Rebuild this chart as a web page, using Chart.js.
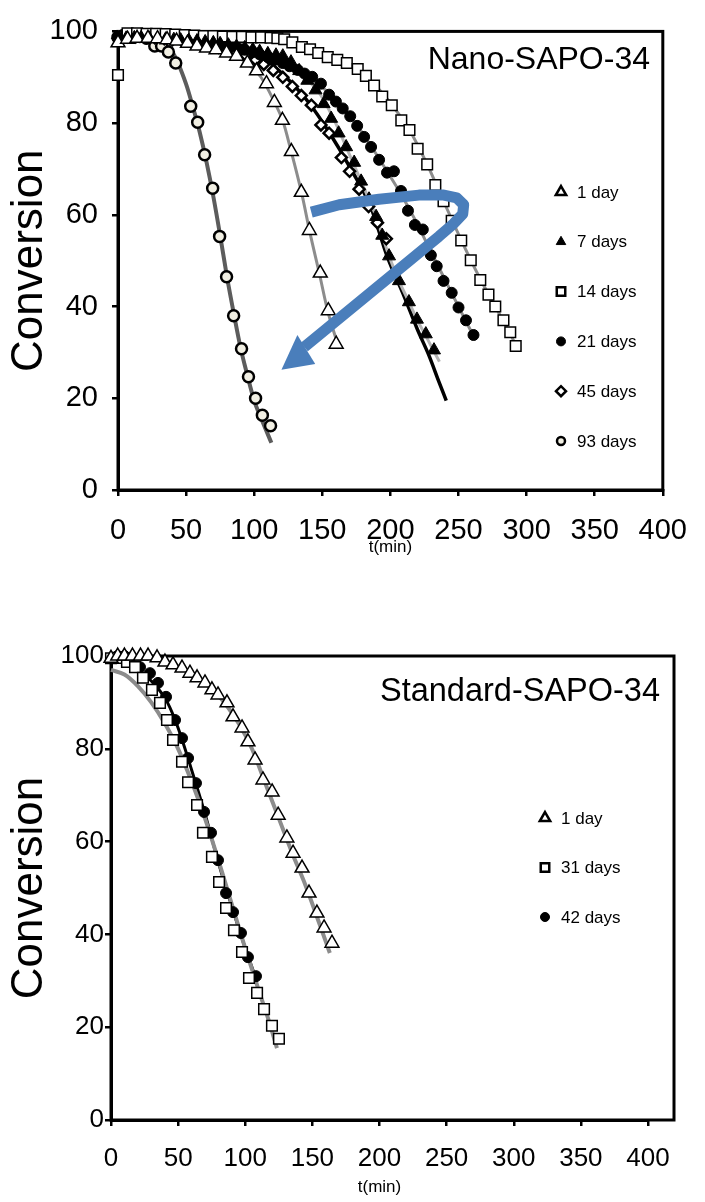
<!DOCTYPE html>
<html>
<head>
<meta charset="utf-8">
<script src="https://cdn.jsdelivr.net/npm/chart.js@4.4.0/dist/chart.umd.min.js"></script>
<style>
  body { margin: 0; background: #fff; }
  #wrap { position: relative; width: 705px; height: 1202px; }
  canvas { position: absolute; left: 0; }
</style>
</head>
<body>
<div id="wrap">
  <canvas id="nanoChart" width="705" height="580" style="top:0px"></canvas>
  <canvas id="stdChart" width="705" height="602" style="top:600px"></canvas>
</div>
<script>
// ---- shared tick labels ----
const xTickValues = [0, 50, 100, 150, 200, 250, 300, 350, 400];
const yTickValues = [0, 20, 40, 60, 80, 100];

// ---- Nano-SAPO-34 (top panel), measured points ----
const nanoDay1T = [0, 7, 14, 22, 29, 36, 43, 51, 58, 65, 72, 79.7, 87, 95, 101.7, 109, 114.8, 120.7, 127.3, 134.6, 140.5, 148.5, 154.4, 160.2];
const nanoDay1C = [97.5, 98.3, 98.5, 98.5, 98.4, 98.2, 97.9, 97.4, 96.8, 96.4, 96, 95.3, 94.6, 93.1, 91.4, 88.6, 84.5, 80.6, 73.8, 64.9, 56.6, 47.3, 39.1, 31.8];

const nanoDay7T = [0, 6, 12, 17, 23, 29, 35, 41, 46, 52, 58, 64, 70, 75, 81, 87, 93, 99, 104, 110, 116, 121, 127, 133, 139, 145, 151, 156.5, 162, 167.5, 173.4, 178.5, 184.3, 189.5, 194, 199, 206.3, 213.6, 219.5, 226, 232];
const nanoDay7C = [97.5, 98.5, 98.6, 98.6, 98.5, 98.4, 98.3, 98.2, 98.1, 98, 97.9, 97.7, 97.5, 97.3, 97, 96.7, 96.4, 96, 95.6, 95.1, 94.8, 94.6, 93.3, 91.4, 89.3, 87.2, 84.2, 81, 77.8, 74.8, 71.4, 67.3, 63.4, 59.6, 55.5, 51, 45.6, 41, 37.2, 34, 30.5];

const nanoDay14T = [0, 7, 14, 21, 28, 35, 42, 49, 56, 63, 70, 77, 84, 91, 98, 105, 112, 117, 122, 128, 135, 141, 147, 154, 161, 168, 176, 182, 188, 194, 201, 208, 214, 220, 227, 233, 239, 245, 252, 259, 266, 272, 277, 283, 288, 292];
const nanoDay14C = [90.5, 99.6, 99.6, 99.5, 99.5, 99.4, 99.3, 99.2, 99.1, 99.0, 99.0, 98.9, 98.8, 98.8, 98.7, 98.7, 98.6, 98.5, 98.3, 97.6, 96.6, 96.1, 95.3, 94.4, 93.8, 93.1, 91.8, 90.3, 88.2, 85.8, 83.9, 80.6, 78.5, 74.4, 71, 66.5, 63, 58.7, 54.4, 50.1, 45.8, 42.6, 40, 37, 34.4, 31.4];

const nanoDay21T = [0, 5, 11, 16, 22, 27, 33, 38, 44, 49, 55, 60, 66, 71, 77, 82, 88, 93, 99, 104, 110, 115, 121, 126, 132, 137, 142.6, 149, 155, 160, 165, 170.5, 175.6, 180.7, 185.8, 191.7, 197.5, 202.6, 207.8, 212.9, 218, 223.8, 229.7, 234, 239, 245, 250, 255.5, 261];
const nanoDay21C = [98.5, 99, 99, 99, 98.9, 98.8, 98.7, 98.6, 98.5, 98.3, 98.1, 97.9, 97.7, 97.4, 97.1, 96.8, 96.4, 96, 95.5, 95, 94.4, 93.8, 93.1, 92.4, 91.6, 90.8, 90.1, 88.6, 86.2, 84.7, 83.2, 81.5, 79.4, 77, 74.8, 72, 69.2, 69.5, 65.2, 60.9, 57.8, 56.8, 51.2, 48.8, 45.6, 43, 39.8, 37, 33.8];

const nanoDay45T = [0, 7, 13, 20, 27, 34, 40, 47, 54, 60, 67, 74, 81, 87, 94, 101, 107, 114, 121, 128, 134.6, 142, 149, 155, 164, 170, 177, 184, 190.5, 197];
const nanoDay45C = [98.5, 98.8, 98.8, 98.7, 98.6, 98.4, 98.2, 98, 97.7, 97.4, 97, 96.5, 96, 95.4, 94.7, 93.8, 92.8, 91.5, 90, 88, 86, 83.9, 79.6, 77.8, 72.5, 69.5, 65.6, 61.8, 58.3, 54.8];

const nanoDay93T = [0, 4, 9.5, 16, 21, 27, 32, 37, 42.4, 53.4, 58.5, 63.6, 69.5, 74.6, 79.7, 84.9, 90.7, 95.8, 101, 106, 112];
const nanoDay93C = [98.7, 99.1, 99.1, 98.9, 98.5, 96.8, 96.8, 95.5, 93.1, 83.7, 80.2, 73.1, 65.8, 55.3, 46.5, 38, 30.8, 24.7, 20, 16.3, 14];

// ---- Nano-SAPO-34 fitted curves ----
const nanoFit1T = [0, 40, 80, 95, 105, 115, 121, 127, 135, 141, 148, 154, 162.4];
const nanoFit1C = [99, 98.2, 95.5, 93, 90, 84.5, 80.5, 74, 64.5, 56, 47, 39, 30.8];
const nanoFit7T = [0, 60, 100, 121, 133, 148, 159, 167.5, 178.5, 189.5, 199, 206.3, 213.6, 219.5, 226, 232, 236];
const nanoFit7C = [99.5, 98.5, 95.8, 93.5, 91, 86.5, 80.5, 74.8, 67.3, 59.6, 51, 45.6, 41, 37.2, 33.6, 30.2, 28];
const nanoFit14T = [0, 60, 100, 122, 141, 161, 176, 188, 201, 214, 227, 239, 252, 266, 277, 288, 294];
const nanoFit14C = [99.8, 99.5, 99, 98.3, 96.2, 93.7, 91.5, 88.5, 84, 78.5, 71, 63, 54.5, 46, 40, 34, 30.5];
const nanoFit21T = [0, 60, 100, 125, 142.6, 155, 165, 175.6, 185.8, 197.5, 207.8, 218, 229.7, 239, 250, 262];
const nanoFit21C = [99.5, 98.5, 96, 92.5, 89.5, 86.5, 83.5, 79.5, 75, 69.5, 64.5, 59, 52, 46.5, 40, 33];
const nanoFit45T = [0, 50, 90, 110, 125, 140, 155, 170, 185.6, 197.7, 210, 219.7, 228.2, 235.5, 241];
const nanoFit45C = [99.5, 98.8, 96.5, 93.5, 89.5, 84.5, 78, 70.5, 61.7, 50.9, 42.3, 35.1, 29.4, 23.7, 19.5];
const nanoFit93T = [0, 20, 30, 40, 50, 55, 60, 65, 70, 75, 80, 85, 90, 95, 100, 106, 112.6];
const nanoFit93C = [99.6, 99, 98, 95.5, 88.5, 83.5, 78, 71.5, 64, 55.5, 46.5, 38.5, 31, 25, 19.5, 15, 10.3];

// ---- the blue "ageing" arrow (path in data units) ----
const arrowPathT = [141.9, 162.4, 191.7, 220.9, 239.2, 248.7, 253.8, 253.1, 246.5, 235.6, 136.8];
const arrowPathC = [60.6, 62.2, 63.4, 64.3, 64.3, 63.7, 62.2, 60.2, 58.1, 55.3, 31.2];
const arrowHeadT = [120, 131.7, 144.8];
const arrowHeadC = [26.2, 33.8, 27.5];

// ---- Standard-SAPO-34 (bottom panel), measured points ----
const stdDay1T = [0, 5, 10, 16, 22, 27.6, 34.3, 40.2, 46.2, 52.9, 58.8, 64.1, 70, 75.2, 79.7, 86.4, 90.9, 97.6, 102, 107.3, 113.2, 120, 124.5, 131, 135.6, 142.3, 147.5, 153.4, 158.7, 164.6];
const stdDay1C = [99.5, 100, 100, 100, 100, 100, 99.6, 98.7, 98.1, 97.4, 96.3, 95.3, 94.2, 92.7, 91.6, 89.9, 86.9, 84.5, 81.5, 77.6, 73.3, 70.7, 65.7, 60.8, 57.5, 54.3, 48.9, 44.6, 41.4, 38.1];
const stdDay31T = [0, 4.5, 11.9, 17.9, 23.8, 30.5, 36.5, 41.7, 46.2, 52.9, 57.4, 64.1, 68.5, 75.2, 80.5, 85.7, 91.6, 97.6, 102.8, 108.8, 114, 119.9, 125.1];
const stdDay31C = [99.5, 99.6, 98.7, 97.6, 95.3, 92.7, 89.9, 86.2, 81.9, 77.2, 72.8, 67.9, 61.9, 56.7, 51.3, 45.7, 40.9, 36.2, 30.6, 27.4, 23.9, 20.3, 17.5];
const stdDay42T = [0, 5, 10, 14.2, 21.6, 29, 35, 41, 47.7, 52.9, 57.4, 63.3, 69.3, 74.5, 79.7, 85.7, 90.9, 96.8, 102, 108];
const stdDay42C = [99.5, 100, 100, 99.6, 97.6, 96.3, 94.2, 91.2, 86.2, 82.3, 78, 72.6, 66.4, 61.9, 56, 48.9, 44.8, 40.3, 35.1, 31];

// ---- Standard-SAPO-34 fitted curves ----
const stdFit1T = [0, 25, 45, 65, 80, 95, 105, 115, 125, 135, 145, 155, 163];
const stdFit1C = [100, 99.8, 98.3, 95.3, 91.5, 85.5, 80, 72.5, 65, 57.5, 50.5, 42.5, 36];
const stdFit31T = [0, 10, 20, 30, 40, 50, 60, 70, 80, 90, 100, 110, 118, 123.6];
const stdFit31C = [97, 96, 93.5, 90, 85.5, 80, 73, 65, 56, 46.5, 37, 28, 21, 15.5];
const stdFit42T = [0, 15, 25, 35, 42, 50, 60, 70, 80, 90, 100, 108];
const stdFit42C = [99.5, 98, 96, 93, 90, 84.5, 75.5, 66, 55.5, 46, 37, 30.5];

const FONT = 'Liberation Sans, Arial, sans-serif';

function pts(ts, cs) {
  return ts.map((t, i) => ({ x: t, y: cs[i] }));
}

function markers(label, ts, cs, style) {
  return {
    label: label,
    data: pts(ts, cs),
    showLine: false,
    pointStyle: style.shape,
    pointRadius: style.r,
    pointHoverRadius: style.r,
    pointBackgroundColor: style.fill,
    pointBorderColor: '#000',
    pointBorderWidth: style.bw,
    legendMarker: style.legend,
    order: 0,
    clip: false
  };
}

function fitLine(ts, cs, color, width) {
  return {
    label: '',
    data: pts(ts, cs),
    showLine: true,
    pointRadius: 0,
    borderColor: color,
    borderWidth: width,
    cubicInterpolationMode: 'monotone',
    fill: false,
    order: 1,
    clip: false
  };
}

// box around the plot area (the lower panel's box runs a bit past 400),
// drawn before the markers so they sit on top
const framePlugin = {
  id: 'frame',
  beforeDatasetsDraw(chart, args, opts) {
    const a = chart.chartArea, ctx = chart.ctx;
    const right = a.right + (opts.extendRight || 0);
    ctx.save();
    ctx.strokeStyle = '#000';
    ctx.lineWidth = 3;
    ctx.strokeRect(a.left, a.top, right - a.left, a.bottom - a.top);
    ctx.restore();
  }
};

// blue arrow (top panel only)
const arrowPlugin = {
  id: 'ageArrow',
  afterDatasetsDraw(chart, args, opts) {
    if (!opts.show) return;
    const xs = chart.scales.x, ys = chart.scales.y, ctx = chart.ctx;
    ctx.save();
    ctx.strokeStyle = '#4a7ebb';
    ctx.fillStyle = '#4a7ebb';
    ctx.lineWidth = 11;
    ctx.lineJoin = 'round';
    ctx.lineCap = 'butt';
    ctx.beginPath();
    arrowPathT.forEach((t, i) => {
      const px = xs.getPixelForValue(t), py = ys.getPixelForValue(arrowPathC[i]);
      if (i === 0) ctx.moveTo(px, py); else ctx.lineTo(px, py);
    });
    ctx.stroke();
    ctx.beginPath();
    arrowHeadT.forEach((t, i) => {
      const px = xs.getPixelForValue(t), py = ys.getPixelForValue(arrowHeadC[i]);
      if (i === 0) ctx.moveTo(px, py); else ctx.lineTo(px, py);
    });
    ctx.closePath();
    ctx.fill();
    ctx.restore();
  }
};

// panel title + in-plot legend
const panelTextPlugin = {
  id: 'panelText',
  afterDraw(chart, args, opts) {
    const ctx = chart.ctx;
    ctx.save();
    ctx.fillStyle = '#000';
    ctx.font = opts.titleSize + 'px ' + FONT;
    ctx.textAlign = 'right';
    ctx.textBaseline = 'middle';
    ctx.fillText(opts.title, opts.titleX, opts.titleY);

    ctx.font = opts.legendSize + 'px ' + FONT;
    ctx.textAlign = 'left';
    let row = 0;
    chart.data.datasets.forEach(ds => {
      if (!ds.legendMarker) return;
      const y = opts.legendY + row * opts.legendStep;
      const m = ds.legendMarker;
      ctx.fillStyle = ds.pointBackgroundColor;
      ctx.strokeStyle = '#000';
      ctx.lineWidth = m.bw;
      Chart.helpers.drawPoint(ctx, { pointStyle: ds.pointStyle, radius: m.r, borderWidth: m.bw, rotation: 0 }, opts.legendX, y);
      ctx.fillStyle = '#000';
      ctx.fillText(ds.label, opts.legendX + 16, y + 1);
      row++;
    });
    ctx.restore();
  }
};

function makeOptions(cfg) {
  return {
    responsive: false,
    animation: false,
    events: [],
    layout: { padding: { top: cfg.padTop, right: cfg.padRight, left: 0, bottom: 0 } },
    plugins: {
      legend: { display: false },
      tooltip: { enabled: false },
      frame: { extendRight: cfg.frameExtra },
      ageArrow: { show: cfg.arrow },
      panelText: cfg.text
    },
    scales: {
      x: {
        type: 'linear',
        min: 0,
        max: 400,
        afterBuildTicks: s => { s.ticks = xTickValues.map(v => ({ value: v })); },
        afterFit: s => { s.height = cfg.xAxisH; },
        ticks: { color: '#000', font: { family: FONT, size: cfg.tickSize }, padding: cfg.xTickPad, maxRotation: 0 },
        grid: { display: true, drawOnChartArea: false, drawTicks: true, tickLength: 6, color: '#000', lineWidth: 2.5 },
        border: { display: true, color: '#000', width: 3 },
        title: { display: true, text: 't(min)', color: '#000', font: { family: FONT, size: 17 }, padding: { top: 0, bottom: cfg.xTitlePad } }
      },
      y: {
        type: 'linear',
        min: 0,
        max: 100,
        afterBuildTicks: s => { s.ticks = yTickValues.map(v => ({ value: v })); },
        afterFit: s => { s.width = cfg.yAxisW; },
        ticks: { color: '#000', font: { family: FONT, size: cfg.tickSize }, padding: cfg.yTickPad },
        grid: { display: true, drawOnChartArea: false, drawTicks: true, tickLength: 6, color: '#000', lineWidth: 2.5 },
        border: { display: true, color: '#000', width: 3 },
        title: { display: true, text: 'Conversion', color: '#000', font: { family: FONT, size: 44, lineHeight: 1 }, padding: { top: cfg.yTitlePad, bottom: 0 } }
      }
    }
  };
}

const openTri = { shape: 'triangle', r: 8, fill: '#fff', bw: 1.5, legend: { r: 6, bw: 2.5 } };
const fullTri = { shape: 'triangle', r: 7.5, fill: '#000', bw: 1, legend: { r: 5.5, bw: 1 } };
const openSq = { shape: 'rect', r: 7.5, fill: '#fff', bw: 1.5, legend: { r: 6, bw: 2.5 } };
const fullDot = { shape: 'circle', r: 5.5, fill: '#000', bw: 1, legend: { r: 4.5, bw: 1 } };
const openDia = { shape: 'rectRot', r: 5.5, fill: '#fff', bw: 2.5, legend: { r: 5, bw: 2.5 } };
const paleDot = { shape: 'circle', r: 5.5, fill: '#f1efe3', bw: 2.5, legend: { r: 4, bw: 2.5 } };

new Chart(document.getElementById('nanoChart'), {
  type: 'scatter',
  data: {
    datasets: [
      markers('1 day', nanoDay1T, nanoDay1C, openTri),
      markers('7 days', nanoDay7T, nanoDay7C, fullTri),
      markers('14 days', nanoDay14T, nanoDay14C, openSq),
      markers('21 days', nanoDay21T, nanoDay21C, fullDot),
      markers('45 days', nanoDay45T, nanoDay45C, openDia),
      markers('93 days', nanoDay93T, nanoDay93C, paleDot),
      fitLine(nanoFit1T, nanoFit1C, '#8c8c8c', 3),
      fitLine(nanoFit7T, nanoFit7C, '#b4b4b4', 3),
      fitLine(nanoFit14T, nanoFit14C, '#8c8c8c', 3),
      fitLine(nanoFit21T, nanoFit21C, '#8c8c8c', 3),
      fitLine(nanoFit45T, nanoFit45C, '#000', 3.5),
      fitLine(nanoFit93T, nanoFit93C, '#5c5c5c', 4)
    ]
  },
  options: makeOptions({
    padTop: 25, padRight: 42, frameExtra: 0, xAxisH: 90, yAxisW: 118,
    tickSize: 29, xTickPad: 18, yTickPad: 14, xTitlePad: 22, yTitlePad: 8, arrow: true,
    text: { title: 'Nano-SAPO-34', titleX: 650, titleY: 60, titleSize: 32, legendX: 561, legendY: 192, legendStep: 49.8, legendSize: 17 }
  }),
  plugins: [framePlugin, arrowPlugin, panelTextPlugin]
});

new Chart(document.getElementById('stdChart'), {
  type: 'scatter',
  data: {
    datasets: [
      markers('1 day', stdDay1T, stdDay1C, openTri),
      markers('31 days', stdDay31T, stdDay31C, openSq),
      markers('42 days', stdDay42T, stdDay42C, fullDot),
      fitLine(stdFit1T, stdFit1C, '#8c8c8c', 4),
      fitLine(stdFit31T, stdFit31C, '#8c8c8c', 4),
      fitLine(stdFit42T, stdFit42C, '#000', 3)
    ]
  },
  options: makeOptions({
    padTop: 56, padRight: 57, frameExtra: 26, xAxisH: 82, yAxisW: 111,
    tickSize: 26, xTickPad: 17, yTickPad: 1, xTitlePad: 4, yTitlePad: 8, arrow: false,
    text: { title: 'Standard-SAPO-34', titleX: 660, titleY: 92, titleSize: 32.5, legendX: 545, legendY: 218, legendStep: 49.5, legendSize: 17 }
  }),
  plugins: [framePlugin, arrowPlugin, panelTextPlugin]
});
</script>
</body>
</html>
